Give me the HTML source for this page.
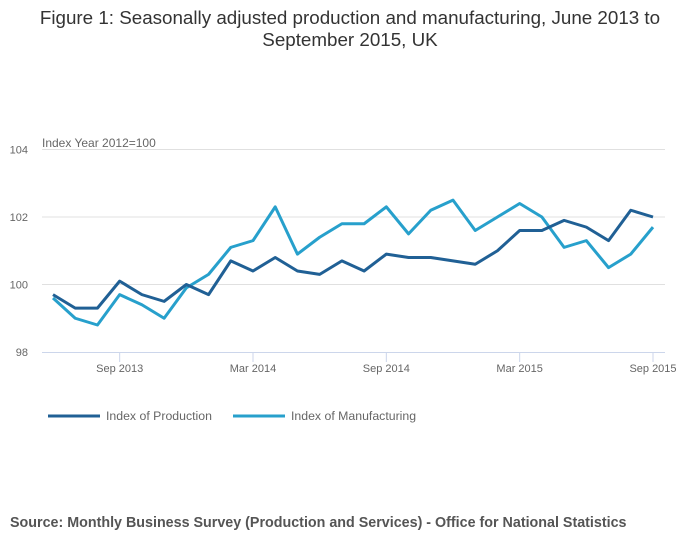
<!DOCTYPE html>
<html><head><meta charset="utf-8"><style>
body{margin:0;background:#fff;font-family:"Liberation Sans",sans-serif}
</style></head><body>
<svg width="700" height="549" xmlns="http://www.w3.org/2000/svg">
<text x="350" y="24" text-anchor="middle" font-size="18.8" fill="#333">Figure 1: Seasonally adjusted production and manufacturing, June 2013 to</text>
<text x="350" y="46" text-anchor="middle" font-size="18.8" fill="#333">September 2015, UK</text>
<text x="42" y="147" font-size="12" fill="#666">Index Year 2012=100</text>
<g id="grid"></g><g id="xax"></g><g id="series"></g>
<g>
<line x1="48" y1="416" x2="100" y2="416" stroke="#206095" stroke-width="3"/>
<text x="106" y="420" font-size="12.3" fill="#666">Index of Production</text>
<line x1="233" y1="416" x2="285" y2="416" stroke="#27a0cc" stroke-width="3"/>
<text x="291" y="420" font-size="12.3" fill="#666">Index of Manufacturing</text>
</g>
<text x="10" y="527" font-size="14.3" font-weight="bold" fill="#555">Source: Monthly Business Survey (Production and Services) - Office for National Statistics</text>
</svg>
<script>
const production=[99.7,99.3,99.3,100.1,99.7,99.5,100.0,99.7,100.7,100.4,100.8,100.4,100.3,100.7,100.4,100.9,100.8,100.8,100.7,100.6,101.0,101.6,101.6,101.9,101.7,101.3,102.2,102.0];
const manufacturing=[99.6,99.0,98.8,99.7,99.4,99.0,99.9,100.3,101.1,101.3,102.3,100.9,101.4,101.8,101.8,102.3,101.5,102.2,102.5,101.6,102.0,102.4,102.0,101.1,101.3,100.5,100.9,101.7];
const yTicks=[98,100,102,104];
const xTickIdx=[3,9,15,21,27];
const xTickLabels=["Sep 2013","Mar 2014","Sep 2014","Mar 2015","Sep 2015"];
const NS="http://www.w3.org/2000/svg";
const X=i=>53+i*(600/27);
const Y=v=>352-(v-98)*33.75;
function mk(p,t,a){const e=document.createElementNS(NS,t);for(const k in a)e.setAttribute(k,a[k]);p.appendChild(e);return e;}
const grid=document.getElementById('grid');
yTicks.forEach(v=>{
 if(v>98){const l=mk(grid,'line',{x1:42,x2:665,y1:Y(v),y2:Y(v),stroke:'#e0e0e0'});
 
 }
 const t=mk(grid,'text',{x:28,y:Y(v)+4,'text-anchor':'end','font-size':11,fill:'#666'});t.textContent=v;
 
 
});
const xax=document.getElementById('xax');
const ax=mk(xax,'line',{x1:42,x2:665,y1:352.5,y2:352.5,stroke:'#ccd6eb'});


xTickIdx.forEach((i,k)=>{
 const tk=mk(xax,'line',{x1:X(i),x2:X(i),y1:352,y2:362,stroke:'#ccd6eb'});
 
 
 const t=mk(xax,'text',{x:X(i),y:372,'text-anchor':'middle','font-size':11,fill:'#666'});t.textContent=xTickLabels[k];
 
 
});
const s=document.getElementById('series');
[[manufacturing,'#27a0cc','manufacturing-line'],[production,'#206095','production-line']].forEach(([d,c,n])=>{
 const p=mk(s,'polyline',{points:d.map((v,i)=>X(i)+','+Y(v)).join(' '),fill:'none',stroke:c,'stroke-width':3,'stroke-linejoin':'round'});
 
 
});
</script>
</body></html>
